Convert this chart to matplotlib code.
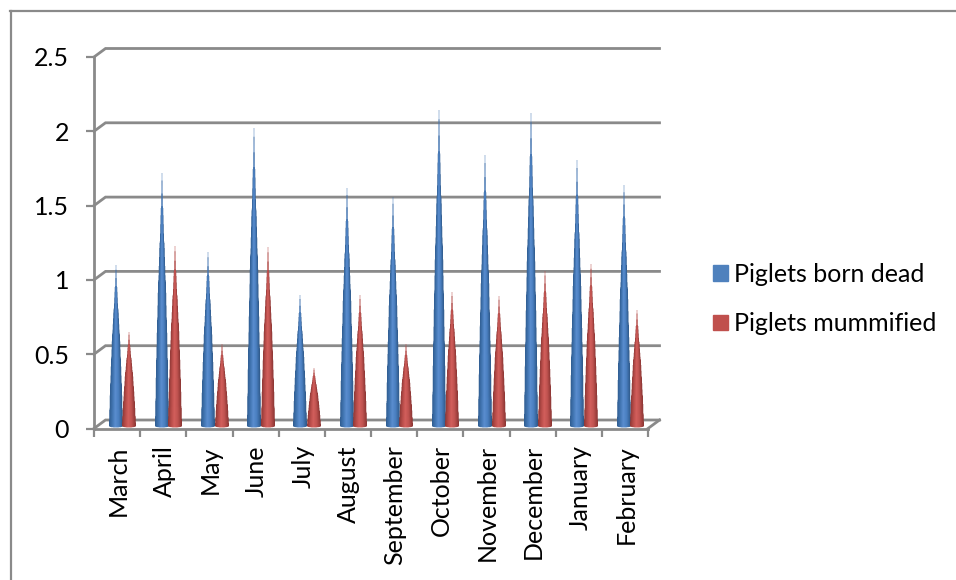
import matplotlib
matplotlib.use('Agg')
import matplotlib.pyplot as plt
from matplotlib.colors import LinearSegmentedColormap
from matplotlib.lines import Line2D
from matplotlib.patches import Patch
from matplotlib.transforms import ScaledTranslation
import numpy as np

months = ['March', 'April', 'May', 'June', 'July', 'August', 'September',
          'October', 'November', 'December', 'January', 'February']
born_dead = [1.08, 1.70, 1.17, 2.00, 0.88, 1.60, 1.54, 2.12, 1.82, 2.10, 1.79, 1.62]
mummified = [0.63, 1.21, 0.55, 1.20, 0.39, 0.88, 0.55, 0.90, 0.87, 1.04, 1.09, 0.78]
y_ticks = [0, 0.5, 1, 1.5, 2, 2.5]
y_labels = ['0', '0.5', '1', '1.5', '2', '2.5']

W, H = 956, 580
GREY = '#8a8a8a'

# axes box in pixels of the image
left, right, top, bottom = 94, 648, 57, 428.5
px_x = 12 / (right - left)
px_y = 2.5 / (bottom - top)

# 3d look: back wall is shifted up and to the right
depth_x = 11.5 * px_x
depth_y = 8.5 * px_y

# outline of a cone: height fraction vs. width fraction (slightly stepped)
cone_t = np.array([0, .03, .10, .11, .26, .27, .42, .43, .57, .58, .72, .73, .86, .87, .95, 1])
cone_w = np.array([1, .99, .95, .91, .85, .80, .70, .66, .56, .50, .36, .30, .17, .12, .07, .03])

plt.rcParams['font.family'] = ['Lato', 'DejaVu Sans']

fig = plt.figure(figsize=(W / 100, H / 100), dpi=100)
ax = fig.add_axes([left / W, 1 - bottom / H, (right - left) / W, (bottom - top) / H])
ax.patch.set_visible(False)

# outer chart frame, runs off the picture on the right and at the bottom
fig.add_artist(Line2D([10.5 / W, 10.5 / W], [0, 1 - 11 / H], color=GREY, lw=1.6))
fig.add_artist(Line2D([10 / W, 1], [1 - 11 / H, 1 - 11 / H], color=GREY, lw=1.6))

# gridlines on the back wall
for v in y_ticks:
    ax.plot([0, depth_x, 12 + depth_x], [v, v + depth_y, v + depth_y],
            color=GREY, lw=2.0, clip_on=False, zorder=1, solid_joinstyle='miter')
ax.plot([12, 12 + depth_x], [0, depth_y], color=GREY, lw=2.0, clip_on=False, zorder=1)


def draw_cone(xc, value, half, cmap):
    # the cone is an RGBA image, alpha gives the soft edge and the pale thin tip
    base = 2 * px_y
    bulge = 1.5 * px_y
    x0, x1 = xc - half - 2 * px_x, xc + half + 2 * px_x
    y0, y1 = base - 3 * px_y, base + value + 2 * px_y
    sub = 4
    nx = int(round((x1 - x0) / px_x)) * sub
    ny = int(round((y1 - y0) / px_y)) * sub
    xs = x0 + (np.arange(nx) + .5) / nx * (x1 - x0)
    ys = y0 + (np.arange(ny) + .5) / ny * (y1 - y0)
    xx, yy = np.meshgrid(xs, ys)
    t = (yy - base) / value
    w = np.interp(t, cone_t, cone_w)
    u = (xx - xc) / (half * np.maximum(w, 1e-6))
    low = base - bulge * np.sqrt(np.clip(1 - ((xx - xc) / half) ** 2, 0, 1))
    inside = (np.abs(u) <= 1) & (t <= 1) & (yy >= low)
    rgba = cmap((np.clip(u, -1, 1) + 1) / 2)
    rgba[..., 3] = inside
    # average the oversampled cells down to image pixels
    solid = rgba[..., :3] * rgba[..., 3:]
    def shrink(a):
        return a.reshape(ny // sub, sub, nx // sub, sub, -1).mean(axis=(1, 3))
    alpha = shrink(rgba[..., 3:])
    colour = shrink(solid) / np.maximum(alpha, 1e-6)
    img = np.clip(np.dstack([colour, alpha]), 0, 1)
    ax.imshow(img, extent=(x0, x1, y0, y1), origin='lower', aspect='auto',
              interpolation='bilinear', clip_on=False, zorder=3)


blue_map = LinearSegmentedColormap.from_list('blue', [(0, '#2f5c90'), (.25, '#4377b4'), (.45, '#5a8dcf'),
                                                      (.7, '#4a7fc0'), (1, '#2d5788')])
red_map = LinearSegmentedColormap.from_list('red', [(0, '#8e3836'), (.25, '#bb4e4b'), (.45, '#d25f5c'),
                                                    (.7, '#c05350'), (1, '#8a3432')])

half_width = 6.9 * px_x
shift = 5.3 * px_x
gap = 6.7 * px_x
for i, month in enumerate(months):
    draw_cone(i + .5 + shift - gap, born_dead[i], half_width, blue_map)
    draw_cone(i + .5 + shift + gap, mummified[i], half_width, red_map)

ax.set_xlim(0, 12)
ax.set_ylim(0, 2.5)

# axes
for name in ['top', 'right']:
    ax.spines[name].set_visible(False)
for name in ['left', 'bottom']:
    ax.spines[name].set_color(GREY)
    ax.spines[name].set_linewidth(2.0)
    ax.spines[name].set_zorder(2)

ax.set_yticks(y_ticks, y_labels)
ax.tick_params(axis='y', length=6, width=1.6, color=GREY, pad=12, labelsize=18, labelcolor='black')
ax.set_xticks(np.arange(12) + .5, months, rotation=90)
ax.set_xticks(np.arange(13), minor=True)
ax.tick_params(axis='x', which='major', length=0, pad=12, labelsize=18, labelcolor='black')
ax.tick_params(axis='x', which='minor', length=6, width=1.6, color=GREY)
# month labels sit a pixel right of the category centre
nudge = ScaledTranslation(1 / 100, 0, fig.dpi_scale_trans)
for lab in ax.get_xticklabels():
    lab.set_transform(lab.get_transform() + nudge)

handles = [Patch(color='#4f81bd', label='Piglets born dead'),
           Patch(color='#c0504d', label='Piglets mummified')]
fig.legend(handles=handles, loc='upper left', bbox_to_anchor=(713 / W, 1 - 263 / H),
           frameon=False, fontsize=18, handlelength=0.6, handleheight=0.6,
           handletextpad=0.22, labelspacing=1.05, borderpad=0, borderaxespad=0)

fig.savefig('out.png', dpi=100)
